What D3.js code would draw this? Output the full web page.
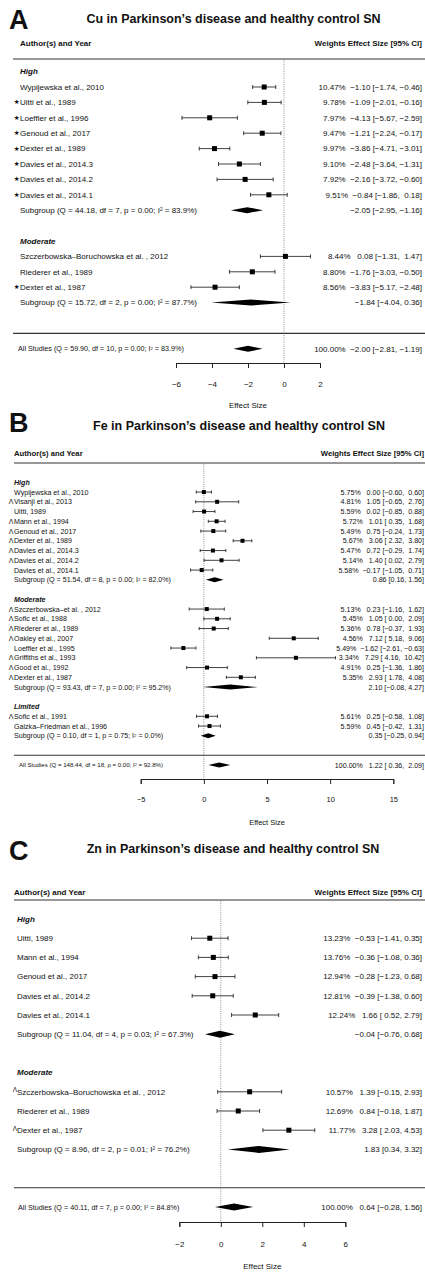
<!DOCTYPE html>
<html>
<head>
<meta charset="utf-8">
<script src="https://cdn.jsdelivr.net/npm/d3@7"></script>
<style>
  html, body { margin: 0; padding: 0; background: #fff; }
  svg { display: block; font-family: "Liberation Sans", Arial, Helvetica, sans-serif; }
  text { white-space: pre; fill: #111; }
</style>
</head>
<body>
<svg id="chart" width="425" height="1273"></svg>
<script>
// ---------- Cu ----------
const cuGroups = ["High", "Moderate"];
const cuGroupSizes = [8, 3];
const cuStudies = ["Wypijewska et al., 2010", "Uitti et al., 1989", "Loeffler et al., 1996", "Genoud et al., 2017",
  "Dexter et al., 1989", "Davies et al., 2014.3", "Davies et al., 2014.2", "Davies et al., 2014.1",
  "Szczerbowska\u2013Boruchowska et al. , 2012", "Riederer et al., 1989", "Dexter et al., 1987"];
const cuMarkers = ["", "\u2605", "\u2605", "\u2605", "\u2605", "\u2605", "\u2605", "\u2605", "", "", "\u2605"];
const cuWeights = [10.47, 9.78, 7.97, 9.47, 9.97, 9.10, 7.92, 9.51, 8.44, 8.80, 8.56];
const cuEst = [-1.10, -1.09, -4.13, -1.21, -3.86, -2.48, -2.16, -0.84, 0.08, -1.76, -3.83];
const cuLower = [-1.74, -2.01, -5.67, -2.24, -4.71, -3.64, -3.72, -1.86, -1.31, -3.03, -5.17];
const cuUpper = [-0.46, -0.16, -2.59, -0.17, -3.01, -1.31, -0.60, 0.18, 1.47, -0.50, -2.48];
const cuSubQ = [44.18, 15.72];
const cuSubDf = [7, 2];
const cuSubP = [0.00, 0.00];
const cuSubI2 = [83.9, 87.7];
const cuSubEst = [-2.05, -1.84];
const cuSubLower = [-2.95, -4.04];
const cuSubUpper = [-1.16, 0.36];
const cuAllStats = [59.90, 10, 0.00, 83.9];      // Q, df, p, I2
const cuAllEffect = [-2.00, -2.81, -1.19];       // estimate, lower, upper
const cuTicks = [-6, -4, -2, 0, 2];

// ---------- Fe ----------
const feGroups = ["High", "Moderate", "Limited"];
const feGroupSizes = [9, 8, 2];
const feStudies = ["Wypijewska et al., 2010", "Visanji et al., 2013", "Uitti, 1989", "Mann et al., 1994",
  "Genoud et al., 2017", "Dexter et al., 1989", "Davies et al., 2014.3", "Davies et al., 2014.2", "Davies et al., 2014.1",
  "Szczerbowska\u2013et al. , 2012", "Sofic et al., 1988", "Riederer et al., 1989", "Oakley et al., 2007",
  "Loeffler et al., 1995", "Griffiths et al., 1993", "Good et al., 1992", "Dexter et al., 1987",
  "Sofic et al., 1991", "Galzka\u2013Friedman et al., 1996"];
const feMarkers = ["", "\u039B", "", "\u039B", "\u039B", "\u039B", "\u039B", "\u039B", "",
  "\u039B", "\u039B", "\u039B", "\u039B", "", "\u039B", "\u039B", "\u039B", "\u039B", ""];
const feWeights = [5.75, 4.81, 5.59, 5.72, 5.49, 5.67, 5.47, 5.14, 5.58, 5.13, 5.45, 5.36, 4.56, 5.49, 3.34, 4.91, 5.35, 5.61, 5.59];
const feEst = [0.00, 1.05, 0.02, 1.01, 0.75, 3.06, 0.72, 1.40, -0.17, 0.23, 1.05, 0.78, 7.12, -1.62, 7.29, 0.25, 2.93, 0.25, 0.45];
const feLower = [-0.60, -0.65, -0.85, 0.35, -0.24, 2.32, -0.29, 0.02, -1.05, -1.16, 0.00, -0.37, 5.18, -2.61, 4.16, -1.36, 1.78, -0.58, -0.42];
const feUpper = [0.60, 2.76, 0.88, 1.68, 1.73, 3.80, 1.74, 2.79, 0.71, 1.62, 2.09, 1.93, 9.06, -0.63, 10.42, 1.86, 4.08, 1.08, 1.31];
const feSubQ = [51.54, 93.43, 0.10];
const feSubDf = [8, 7, 1];
const feSubP = [0.00, 0.00, 0.75];
const feSubI2 = [82.0, 95.2, 0.0];
const feSubEst = [0.86, 2.10, 0.35];
const feSubLower = [0.16, -0.08, -0.25];
const feSubUpper = [1.56, 4.27, 0.94];
const feAllStats = [148.44, 18, 0.00, 92.8];
const feAllEffect = [1.22, 0.36, 2.09];
const feTicks = [-5, 0, 5, 10, 15];

// ---------- Zn ----------
const znGroups = ["High", "Moderate"];
const znGroupSizes = [5, 3];
const znStudies = ["Uitti, 1989", "Mann et al., 1994", "Genoud et al., 2017", "Davies et al., 2014.2", "Davies et al., 2014.1",
  "Szczerbowska\u2013Boruchowska et al. , 2012", "Riederer et al., 1989", "Dexter et al., 1987"];
const znMarkers = ["", "", "", "", "", "\u039B", "", "\u039B"];
const znWeights = [13.23, 13.76, 12.94, 12.81, 12.24, 10.57, 12.69, 11.77];
const znEst = [-0.53, -0.36, -0.28, -0.39, 1.66, 1.39, 0.84, 3.28];
const znLower = [-1.41, -1.08, -1.23, -1.38, 0.52, -0.15, -0.18, 2.03];
const znUpper = [0.35, 0.36, 0.68, 0.60, 2.79, 2.93, 1.87, 4.53];
const znSubQ = [11.04, 8.96];
const znSubDf = [4, 2];
const znSubP = [0.03, 0.01];
const znSubI2 = [67.3, 76.2];
const znSubEst = [-0.04, 1.83];
const znSubLower = [-0.76, 0.34];
const znSubUpper = [0.68, 3.32];
const znAllStats = [40.11, 7, 0.00, 84.8];
const znAllEffect = [0.64, -0.28, 1.56];
const znTicks = [-2, 0, 2, 4, 6];

const svg = d3.select("#chart");
svg.append("rect").attr("width", 425).attr("height", 1273).attr("fill", "#fff");

const fmtNum = v => (v < 0 ? "\u2212" : "") + Math.abs(v).toFixed(2);
const padNum = (v, pad) => (pad && v >= 0 ? " " : "") + fmtNum(v);

function statLabel(sel, prefix, Q, df, p, i2) {
  sel.append("tspan").text(`${prefix} (Q = ${Q.toFixed(2)}, df = ${df}, p = ${p.toFixed(2)}; I`);
  sel.append("tspan").attr("dy", "-0.4em").attr("font-size", "0.6em").text("2");
  sel.append("tspan").attr("dy", "0.24em").text(` = ${i2.toFixed(1)}%)`);
}

function drawPanel(D, L) {
  const g = svg.append("g");
  const x = d3.scaleLinear().domain(d3.extent(D.ticks)).range(L.xRange);
  const y = s => L.y0 + s * L.step;

  // panel letter and title
  g.append("text").attr("x", L.letterX).attr("y", L.letterY)
    .attr("font-size", 27).attr("font-weight", "bold").text(D.letter);
  g.append("text").attr("x", L.titleX).attr("y", L.titleY).attr("text-anchor", "middle")
    .attr("font-size", 12.5).attr("font-weight", "bold").text(D.title);

  // column headers
  g.append("text").attr("x", L.headX).attr("y", L.headY).attr("dy", "0.35em")
    .attr("font-size", L.headFs).attr("font-weight", "bold").text("Author(s) and Year");
  g.append("text").attr("x", L.annotX).attr("y", L.headY).attr("dy", "0.35em").attr("text-anchor", "end")
    .attr("font-size", L.headFs).attr("font-weight", "bold").text("Weights Effect Size [95% CI]");
  g.append("line").attr("x1", L.lineX0).attr("x2", 425).attr("y1", L.headLine).attr("y2", L.headLine)
    .attr("stroke", "#333").attr("stroke-width", 1.1);

  // row slots: heading, studies, subgroup summary, blank line
  let slot = 0, k = 0;
  const heads = [], rows = [], subs = [];
  D.groups.forEach((name, gi) => {
    heads.push({ name, slot });
    slot++;
    for (let j = 0; j < D.sizes[gi]; j++) { rows.push({ i: k, slot }); k++; slot++; }
    subs.push({ gi, slot });
    slot += 2;
  });
  const lineSlot = slot, allSlot = slot + 1;

  const padEst = D.est.some(v => v < 0), padLo = D.lo.some(v => v < 0), padHi = D.hi.some(v => v < 0);

  // reference line at zero
  g.append("line").attr("x1", x(0)).attr("x2", x(0)).attr("y1", L.headLine + 1).attr("y2", L.axisY)
    .attr("stroke", "#777").attr("stroke-width", 0.8).attr("stroke-dasharray", "1,1.2");

  // group headings
  g.selectAll(".head").data(heads).join("text")
    .attr("x", L.labelX).attr("y", d => y(d.slot)).attr("dy", "0.35em")
    .attr("font-size", L.fs).attr("font-weight", "bold").attr("font-style", "italic")
    .text(d => d.name);

  // study labels and markers
  g.selectAll(".lab").data(rows).join("text")
    .attr("x", L.labelX).attr("y", d => y(d.slot)).attr("dy", "0.35em")
    .attr("font-size", L.fs).text(d => D.studies[d.i]);
  g.selectAll(".mark").data(rows.filter(d => D.markers[d.i])).join("text")
    .attr("x", L.labelX - L.markGap).attr("y", d => y(d.slot)).attr("dy", L.markDy)
    .attr("text-anchor", "end").attr("font-size", L.markFs)
    .attr("font-family", L.markFont).text(d => D.markers[d.i]);

  // confidence intervals
  const ci = g.selectAll(".ci").data(rows).join("g").attr("stroke", "#111").attr("stroke-width", 0.8);
  ci.append("line").attr("x1", d => x(D.lo[d.i])).attr("x2", d => x(D.hi[d.i]))
    .attr("y1", d => y(d.slot)).attr("y2", d => y(d.slot));
  ci.append("line").attr("x1", d => x(D.lo[d.i])).attr("x2", d => x(D.lo[d.i]))
    .attr("y1", d => y(d.slot) - L.cap / 2).attr("y2", d => y(d.slot) + L.cap / 2);
  ci.append("line").attr("x1", d => x(D.hi[d.i])).attr("x2", d => x(D.hi[d.i]))
    .attr("y1", d => y(d.slot) - L.cap / 2).attr("y2", d => y(d.slot) + L.cap / 2);
  g.selectAll(".pt").data(rows).join("rect")
    .attr("x", d => x(D.est[d.i]) - L.sq / 2).attr("y", d => y(d.slot) - L.sq / 2)
    .attr("width", L.sq).attr("height", L.sq).attr("fill", "#000");

  // study annotations
  g.selectAll(".ann").data(rows).join("text")
    .attr("x", L.annotX).attr("y", d => y(d.slot)).attr("dy", "0.35em").attr("text-anchor", "end")
    .attr("xml:space", "preserve").attr("font-size", L.fs)
    .text(d => `${D.weights[d.i].toFixed(2)}%  ${padNum(D.est[d.i], padEst)} [${padNum(D.lo[d.i], padLo)}, ${padNum(D.hi[d.i], padHi)}]`);

  // subgroup summaries
  const diamond = (est, lo, hi, yc, h) =>
    `M${x(lo)},${yc} L${x(est)},${yc - h} L${x(hi)},${yc} L${x(est)},${yc + h} Z`;
  subs.forEach(s => {
    const t = g.append("text").attr("x", L.labelX).attr("y", y(s.slot)).attr("dy", "0.35em").attr("font-size", L.fs);
    statLabel(t, "Subgroup", D.subQ[s.gi], D.subDf[s.gi], D.subP[s.gi], D.subI2[s.gi]);
    g.append("path").attr("d", diamond(D.subEst[s.gi], D.subLo[s.gi], D.subHi[s.gi], y(s.slot), L.dia)).attr("fill", "#000");
    g.append("text").attr("x", L.annotX).attr("y", y(s.slot)).attr("dy", "0.35em").attr("text-anchor", "end")
      .attr("xml:space", "preserve").attr("font-size", L.fs)
      .text(`${fmtNum(D.subEst[s.gi])} [${fmtNum(D.subLo[s.gi])}, ${fmtNum(D.subHi[s.gi])}]`);
  });

  // overall summary
  g.append("line").attr("x1", L.lineX0).attr("x2", 425).attr("y1", y(lineSlot)).attr("y2", y(lineSlot))
    .attr("stroke", "#333").attr("stroke-width", 1.1);
  const ta = g.append("text").attr("x", L.allX).attr("y", y(allSlot)).attr("dy", "0.35em").attr("font-size", L.allFs);
  statLabel(ta, "All Studies", D.allStats[0], D.allStats[1], D.allStats[2], D.allStats[3]);
  g.append("path").attr("d", diamond(D.allEffect[0], D.allEffect[1], D.allEffect[2], y(allSlot), L.dia)).attr("fill", "#000");
  g.append("text").attr("x", L.annotX).attr("y", y(allSlot)).attr("dy", "0.35em").attr("text-anchor", "end")
    .attr("xml:space", "preserve").attr("font-size", L.fs)
    .text(`100.00%  ${padNum(D.allEffect[0], padEst)} [${padNum(D.allEffect[1], padLo)}, ${padNum(D.allEffect[2], padHi)}]`);

  // x axis
  const ax = g.append("g").attr("transform", `translate(0,${L.axisY})`)
    .call(d3.axisBottom(x).tickValues(D.ticks).tickSize(5).tickSizeOuter(5).tickPadding(L.tickPad));
  ax.select(".domain").attr("stroke", "#222").attr("stroke-width", 1);
  ax.selectAll(".tick line").attr("stroke", "#222").attr("stroke-width", 1);
  ax.selectAll(".tick text").attr("font-size", L.tickFs).attr("font-family", "Liberation Sans, Arial, sans-serif").attr("fill", "#111");
  g.append("text").attr("x", (L.xRange[0] + L.xRange[1]) / 2).attr("y", L.effY).attr("dy", "0.35em")
    .attr("text-anchor", "middle").attr("font-size", L.tickFs).text("Effect Size");
}

drawPanel(
  { letter: "A", title: "Cu in Parkinson\u2019s disease and healthy control SN",
    groups: cuGroups, sizes: cuGroupSizes, studies: cuStudies, markers: cuMarkers, weights: cuWeights,
    est: cuEst, lo: cuLower, hi: cuUpper, subQ: cuSubQ, subDf: cuSubDf, subP: cuSubP, subI2: cuSubI2,
    subEst: cuSubEst, subLo: cuSubLower, subHi: cuSubUpper, allStats: cuAllStats, allEffect: cuAllEffect, ticks: cuTicks },
  { letterX: 9, letterY: 28.5, titleX: 233.5, titleY: 22.5, headX: 20, headY: 43, headFs: 8, headLine: 59, lineX0: 13,
    xRange: [176, 320], y0: 71.6, step: 15.4, labelX: 20, annotX: 422, fs: 8, allX: 18, allFs: 7.2,
    markGap: 0.5, markFs: 6.5, markDy: "0.3em", markFont: "DejaVu Sans",
    sq: 5, cap: 4, dia: 3, axisY: 363, tickPad: 13, tickFs: 8, effY: 405 });

drawPanel(
  { letter: "B", title: "Fe in Parkinson\u2019s disease and healthy control SN",
    groups: feGroups, sizes: feGroupSizes, studies: feStudies, markers: feMarkers, weights: feWeights,
    est: feEst, lo: feLower, hi: feUpper, subQ: feSubQ, subDf: feSubDf, subP: feSubP, subI2: feSubI2,
    subEst: feSubEst, subLo: feSubLower, subHi: feSubUpper, allStats: feAllStats, allEffect: feAllEffect, ticks: feTicks },
  { letterX: 9, letterY: 432, titleX: 239, titleY: 429.5, headX: 14, headY: 453, headFs: 7.7, headLine: 463, lineX0: 14,
    xRange: [140.7, 393.3], y0: 482.3, step: 9.75, labelX: 14, annotX: 424, fs: 7.1, allX: 19, allFs: 6.1,
    markGap: 0.5, markFs: 7, markDy: "0.35em", markFont: "Liberation Sans",
    sq: 4, cap: 3.2, dia: 2.5, axisY: 779, tickPad: 13, tickFs: 7.5, effY: 822 });

drawPanel(
  { letter: "C", title: "Zn in Parkinson\u2019s disease and healthy control SN",
    groups: znGroups, sizes: znGroupSizes, studies: znStudies, markers: znMarkers, weights: znWeights,
    est: znEst, lo: znLower, hi: znUpper, subQ: znSubQ, subDf: znSubDf, subP: znSubP, subI2: znSubI2,
    subEst: znSubEst, subLo: znSubLower, subHi: znSubUpper, allStats: znAllStats, allEffect: znAllEffect, ticks: znTicks },
  { letterX: 9, letterY: 860, titleX: 233, titleY: 852.5, headX: 14, headY: 892, headFs: 8, headLine: 900, lineX0: 14,
    xRange: [179.3, 345.3], y0: 919, step: 19.2, labelX: 17, annotX: 422, fs: 8, allX: 18, allFs: 7.2,
    markGap: 0, markFs: 6.5, markDy: "0.1em", markFont: "Liberation Sans",
    sq: 5, cap: 4, dia: 3.5, axisY: 1222, tickPad: 14, tickFs: 8, effY: 1266 });
</script>
</body>
</html>
